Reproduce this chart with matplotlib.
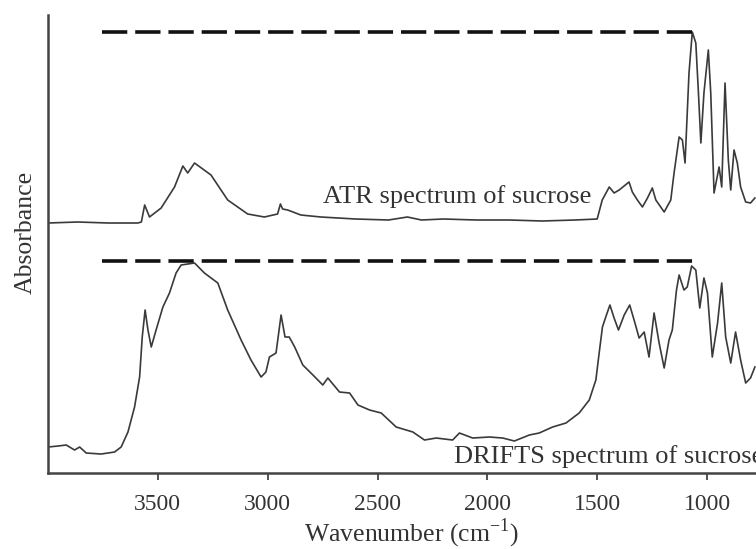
import matplotlib
matplotlib.use('Agg')
import matplotlib.pyplot as plt

# 字体设置：衬线字体
matplotlib.rcParams['font.family'] = ['Liberation Serif', 'DejaVu Serif']
matplotlib.rcParams['mathtext.fontset'] = 'custom'
matplotlib.rcParams['mathtext.rm'] = 'Liberation Serif'
matplotlib.rcParams['font.size'] = 17

# ATR 光谱 (波数 cm-1, 吸光度, 已含偏移)
atr_wn = [4000, 3864, 3727, 3591, 3575, 3560, 3538, 3485, 3424, 3386, 3364, 3333,
          3258, 3182, 3091, 3015, 2955, 2942, 2932, 2909, 2849, 2758, 2600, 2450,
          2364, 2300, 2200, 2050, 1900, 1750, 1600, 1500, 1477, 1445, 1423, 1400,
          1355, 1340, 1317, 1294, 1271, 1249, 1233, 1195, 1165, 1150, 1127, 1112,
          1100, 1082, 1067, 1051, 1039, 1028, 1014, 994, 983, 968, 945, 933, 918,
          903, 892, 877, 862, 847, 824, 802, 782]
atr_abs = [2.50, 2.51, 2.50, 2.50, 2.51, 2.68, 2.56, 2.65, 2.86, 3.07, 3.00, 3.10,
           2.98, 2.73, 2.59, 2.56, 2.59, 2.69, 2.64, 2.63, 2.58, 2.56, 2.54, 2.53,
           2.56, 2.53, 2.54, 2.53, 2.53, 2.52, 2.53, 2.54, 2.73, 2.86, 2.80, 2.83,
           2.91, 2.81, 2.73, 2.66, 2.75, 2.85, 2.73, 2.61, 2.73, 3.00, 3.36, 3.33,
           3.10, 4.00, 4.41, 4.30, 3.80, 3.30, 3.80, 4.23, 3.80, 2.80, 3.06, 2.86, 3.90,
           3.13, 2.83, 3.23, 3.10, 2.86, 2.71, 2.70, 2.75]

# DRIFTS 光谱
drifts_wn = [4000, 3955, 3917, 3879, 3856, 3826, 3758, 3697, 3667, 3636, 3606, 3583,
             3571, 3558, 3545, 3530, 3508, 3477, 3447, 3417, 3394, 3364, 3333, 3288,
             3227, 3182, 3121, 3076, 3030, 3008, 2992, 2962, 2939, 2921, 2902, 2877,
             2840, 2794, 2749, 2726, 2673, 2627, 2589, 2536, 2483, 2415, 2339, 2286,
             2233, 2158, 2127, 2067, 1991, 1930, 1877, 1809, 1764, 1703, 1642, 1582,
             1536, 1506, 1491, 1476, 1461, 1442, 1423, 1403, 1377, 1352, 1332, 1309,
             1286, 1264, 1241, 1218, 1195, 1173, 1158, 1139, 1127, 1105, 1090, 1070,
             1051, 1033, 1014, 998, 976, 952, 933, 915, 892, 870, 847, 824, 802, 782]
drifts_abs = [0.26, 0.27, 0.28, 0.23, 0.26, 0.20, 0.19, 0.21, 0.26, 0.41, 0.66, 0.96,
              1.36, 1.63, 1.43, 1.26, 1.43, 1.66, 1.80, 2.00, 2.08, 2.09, 2.10, 2.00,
              1.90, 1.63, 1.33, 1.13, 0.96, 1.01, 1.16, 1.20, 1.58, 1.36, 1.36, 1.26,
              1.08, 0.98, 0.88, 0.95, 0.81, 0.80, 0.68, 0.63, 0.60, 0.46, 0.41, 0.33,
              0.35, 0.33, 0.40, 0.35, 0.36, 0.35, 0.32, 0.38, 0.40, 0.46, 0.50, 0.60,
              0.73, 0.93, 1.20, 1.46, 1.56, 1.68, 1.55, 1.43, 1.58, 1.68, 1.53, 1.35,
              1.41, 1.16, 1.60, 1.30, 1.05, 1.33, 1.43, 1.83, 1.98, 1.83, 1.86, 2.07,
              2.03, 1.65, 1.95, 1.80, 1.16, 1.50, 1.90, 1.36, 1.10, 1.41, 1.13, 0.90,
              0.95, 1.06]

# 虚线参考线 (起止波数与高度)
atr_ref = ([3756, 1059], [4.41, 4.41])
drifts_ref = ([3756, 1059], [2.12, 2.12])

xticks = [3500, 3000, 2500, 2000, 1500, 1000]

fig = plt.figure(figsize=(7.56, 5.49), dpi=100)
ax = fig.add_axes([0.0635, 0.1384, 0.9365, 0.8343])

line_color = '#3a3a3a'
ax.plot(atr_wn, atr_abs, color=line_color, linewidth=1.2)
ax.plot(drifts_wn, drifts_abs, color=line_color, linewidth=1.2)

ax.plot(atr_ref[0], atr_ref[1], color='#111111', linewidth=2.6, linestyle=(0, (7.0, 2.2)))
ax.plot(drifts_ref[0], drifts_ref[1], color='#111111', linewidth=2.6, linestyle=(0, (7.0, 2.2)))

text_color = '#333333'
ax.text(2750, 2.70, 'ATR spectrum of sucrose', color=text_color, va='baseline',
        ha='left', fontsize=19)
ax.text(2150, 0.10, 'DRIFTS spectrum of sucrose', color=text_color, va='baseline',
        ha='left', fontsize=19, clip_on=False)

ax.set_xlim(4000, 777)
ax.set_ylim(0, 4.58)
ax.set_xticks(xticks)
ax.set_yticks([])
ax.tick_params(axis='x', direction='out', length=5, width=1.3, colors='#444444',
               labelcolor=text_color, pad=10, labelsize=17)

for side in ['top', 'right']:
    ax.spines[side].set_visible(False)
for side in ['left', 'bottom']:
    ax.spines[side].set_linewidth(1.8)
    ax.spines[side].set_color('#444444')

ax.set_xlabel('Wavenumber (cm$^{-1}$)', color=text_color, fontsize=18.5)
ax.xaxis.set_label_coords(0.513, -0.094)
ax.set_ylabel('Absorbance', color=text_color, fontsize=18.5)
ax.yaxis.set_label_coords(-0.016, 0.526)

fig.savefig('out.png', dpi=100)
